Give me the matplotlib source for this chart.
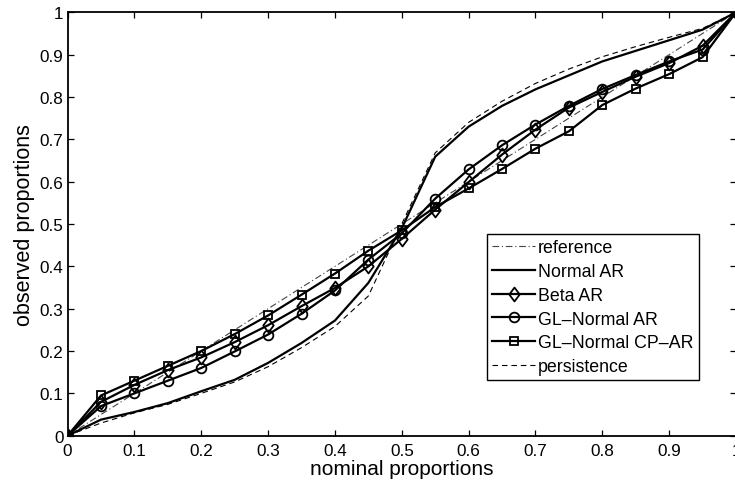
import numpy as np
import matplotlib
matplotlib.use("Agg")
import matplotlib.pyplot as plt
from matplotlib.path import Path

plt.rcParams['font.family'] = ['Liberation Sans', 'DejaVu Sans']

nominal = [0, 0.05, 0.1, 0.15, 0.2, 0.25, 0.3, 0.35, 0.4, 0.45, 0.5,
           0.55, 0.6, 0.65, 0.7, 0.75, 0.8, 0.85, 0.9, 0.95, 1.0]
reference = nominal
normal_ar = [0, 0.038, 0.056, 0.077, 0.105, 0.132, 0.172, 0.219, 0.272, 0.361, 0.49,
             0.659, 0.730, 0.779, 0.818, 0.851, 0.884, 0.909, 0.934, 0.959, 1.0]
beta_ar = [0, 0.080, 0.120, 0.155, 0.185, 0.221, 0.261, 0.306, 0.349, 0.400, 0.465,
           0.534, 0.599, 0.664, 0.723, 0.775, 0.812, 0.848, 0.880, 0.921, 1.0]
gl_normal_ar = [0, 0.070, 0.100, 0.130, 0.160, 0.199, 0.239, 0.288, 0.343, 0.416, 0.478,
                0.560, 0.629, 0.686, 0.735, 0.779, 0.819, 0.852, 0.884, 0.912, 1.0]
gl_normal_cpar = [0, 0.095, 0.130, 0.165, 0.200, 0.240, 0.284, 0.333, 0.383, 0.437, 0.485,
                  0.540, 0.584, 0.630, 0.678, 0.719, 0.781, 0.820, 0.854, 0.894, 1.0]
persistence = [0, 0.030, 0.054, 0.074, 0.100, 0.127, 0.163, 0.208, 0.258, 0.330, 0.50,
               0.668, 0.740, 0.790, 0.832, 0.866, 0.895, 0.919, 0.941, 0.962, 1.0]

ticks = [0, 0.1, 0.2, 0.3, 0.4, 0.5, 0.6, 0.7, 0.8, 0.9, 1]
tick_labels = ['0', '0.1', '0.2', '0.3', '0.4', '0.5', '0.6', '0.7', '0.8', '0.9', '1']

diamond = Path([(0, 1), (0.75, 0), (0, -1), (-0.75, 0), (0, 1)],
               [Path.MOVETO, Path.LINETO, Path.LINETO, Path.LINETO, Path.CLOSEPOLY])

fig = plt.figure(figsize=(7.35, 4.85), dpi=100)
W, H = 735, 485
x0, x1, ytop, ybot = 67.6, 736.0, 13.3, 436.7
ax = fig.add_axes([x0 / W, 1 - ybot / H, (x1 - x0) / W, (ybot - ytop) / H])

lw = 1.6
ax.plot(nominal, reference, linestyle='-.', color='#444444', lw=0.8, label='reference',
        dashes=(6, 2.5, 1, 2.5))
ax.plot(nominal, normal_ar, '-', color='black', lw=lw, label='Normal AR')
ax.plot(nominal, beta_ar, '-', color='black', lw=lw, marker=diamond, ms=10,
        mfc='none', mec='black', mew=1.3, label='Beta AR')
ax.plot(nominal, gl_normal_ar, '-', color='black', lw=lw, marker='o', ms=7,
        mfc='none', mec='black', mew=1.3, label='GL\u2013Normal AR')
ax.plot(nominal, gl_normal_cpar, '-', color='black', lw=lw, marker='s', ms=6.2,
        mfc='none', mec='black', mew=1.3, label='GL\u2013Normal CP\u2013AR')
ax.plot(nominal, persistence, '--', color='black', lw=0.8, label='persistence',
        dashes=(5, 3.5))

ax.set_xlim(0, 1)
ax.set_ylim(0, 1)
ax.set_xticks(ticks)
ax.set_xticklabels(tick_labels)
ax.set_yticks(ticks)
ax.set_yticklabels(tick_labels)
ax.tick_params(direction='in', length=4, width=0.9, top=True, right=True,
               labelsize=12.3)
ax.tick_params(axis='x', pad=5)
ax.tick_params(axis='y', pad=3)
for s in ax.spines.values():
    s.set_linewidth(1.3)
ax.set_xlabel('nominal proportions', fontsize=15, labelpad=1)
ax.set_ylabel('observed proportions', fontsize=15.5, labelpad=3)

fx0 = (487 - x0) / (x1 - x0)
fy0 = (ybot - 235) / (ybot - ytop)
leg = ax.legend(loc='upper left', bbox_to_anchor=(fx0, fy0), fontsize=12.8,
                frameon=True, fancybox=False, edgecolor='black', framealpha=1,
                handlelength=2.4, handletextpad=0.15, labelspacing=0.38,
                borderpad=0.3, borderaxespad=0)
leg.get_frame().set_linewidth(1.0)

fig.savefig('out.png', dpi=100)
